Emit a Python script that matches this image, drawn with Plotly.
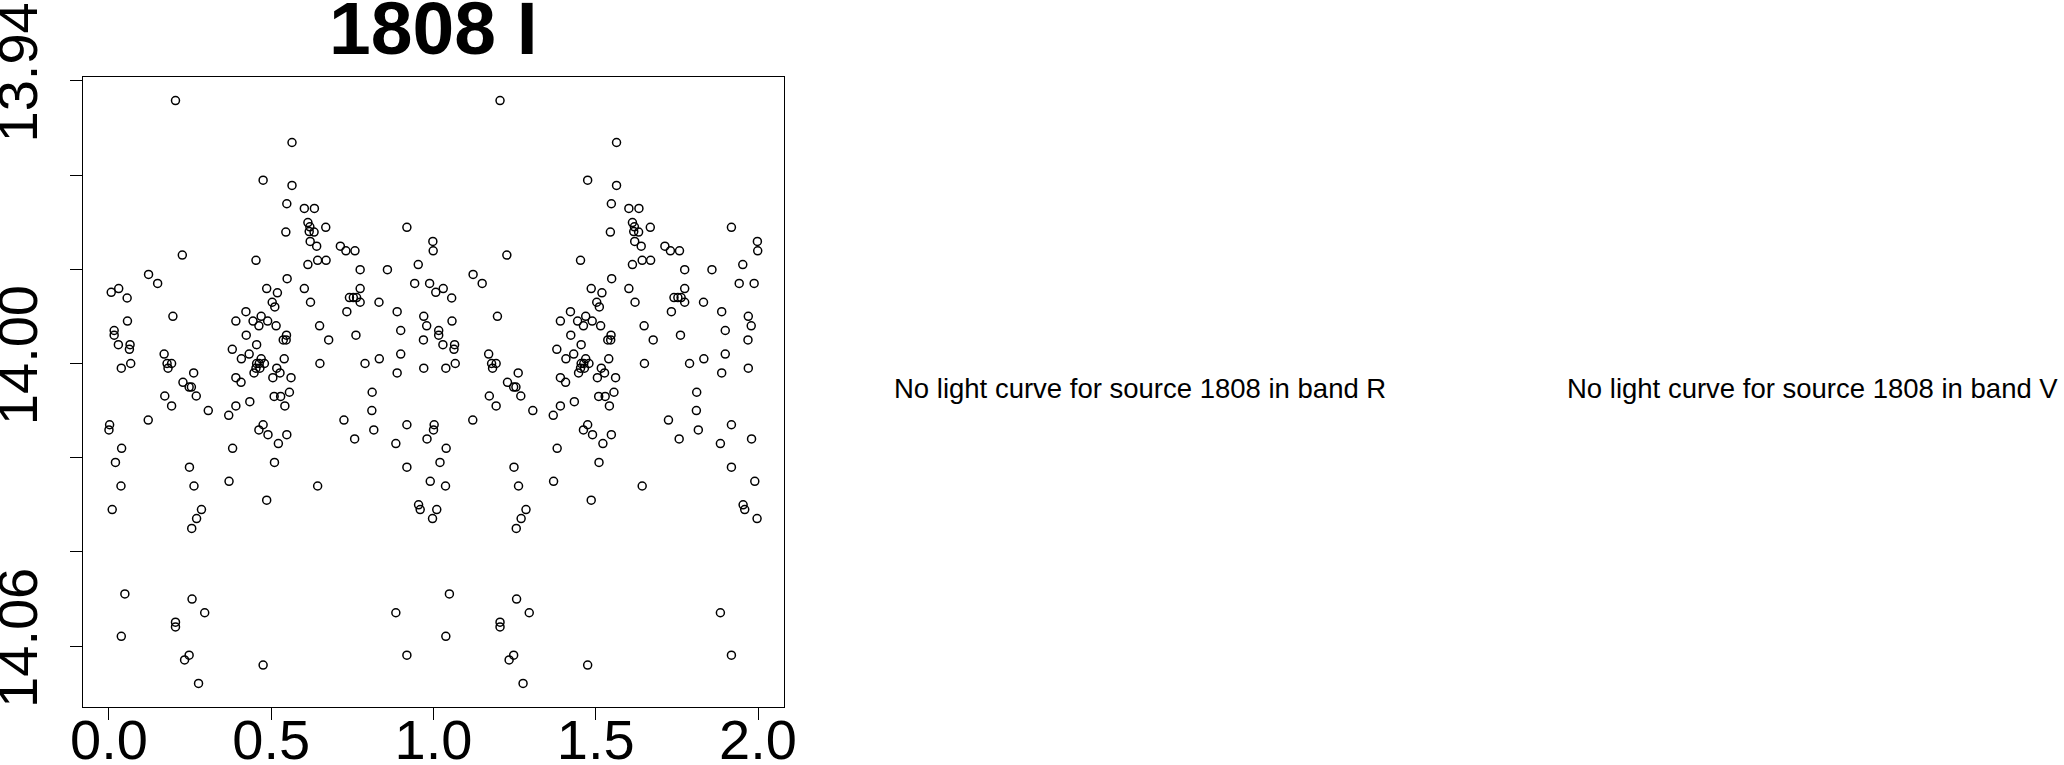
import plotly.graph_objects as go

# ---- data (phase, I-band magnitude); plotted twice (phase and phase+1)
phase = [0.205, 0.564, 0.475, 0.564, 0.548, 0.602, 0.633, 0.613, 0.619, 0.617,
         0.632, 0.668, 0.545, 0.918, 0.620, 0.998, 0.640, 0.713, 0.730, 0.758,
         0.999, 0.226, 0.453, 0.643, 0.669, 0.613, 0.953, 0.774, 0.858, 0.122,
         0.549, 0.150, 0.942, 0.988, 0.030, 0.486, 0.602, 0.774, 0.007, 0.519,
         0.056, 0.741, 0.753, 0.763, 0.503, 0.621, 0.774, 0.832, 0.511, 0.422,
         0.733, 0.888, 0.197, 0.469, 0.970, 0.057, 0.391, 0.444, 0.489, 0.462,
         0.515, 0.649, 0.979, 0.016, 0.899, 0.016, 0.423, 0.547, 0.761, 0.537,
         0.546, 0.677, 0.969, 0.029, 0.065, 0.455, 0.063, 0.380, 0.170, 0.432,
         0.899, 0.408, 0.469, 0.540, 0.833, 0.067, 0.179, 0.193, 0.455, 0.463,
         0.479, 0.650, 0.789, 0.038, 0.182, 0.453, 0.465, 0.517, 0.970, 0.261,
         0.447, 0.527, 0.888, 0.391, 0.505, 0.561, 0.228, 0.407, 0.247, 0.254,
         0.556, 0.811, 0.172, 0.269, 0.509, 0.529,
         0.434, 0.193, 0.391, 0.542, 0.306, 0.810, 0.369, 0.121, 0.724, 0.002,
         0.475, 0.918, 0.000, 0.462, 0.816, 0.490, 0.548, 0.757, 0.980, 0.522,
         0.884, 0.039, 0.381, 0.020, 0.510, 0.248, 0.918, 0.370, 0.990, 0.037,
         0.262, 0.643, 0.486, 0.954, 0.010, 0.285, 0.959, 0.270, 0.997, 0.255,
         0.049, 0.256, 0.295, 0.884, 0.205, 0.205, 0.038, 0.247, 0.918, 0.233,
         0.475, 0.276]
mag = [13.9442, 13.9531, 13.9611, 13.9622, 13.9661, 13.9671, 13.9671, 13.9701, 13.9710, 13.9720,
       13.9721, 13.9711, 13.9721, 13.9711, 13.9741, 13.9741, 13.9751, 13.9751, 13.9761, 13.9761,
       13.9761, 13.9770, 13.9781, 13.9781, 13.9781, 13.9790, 13.9790, 13.9801, 13.9801, 13.9811,
       13.9820, 13.9830, 13.9830, 13.9830, 13.9841, 13.9841, 13.9841, 13.9841, 13.9849, 13.9850,
       13.9861, 13.9860, 13.9860, 13.9860, 13.9870, 13.9870, 13.9870, 13.9870, 13.9880, 13.9890,
       13.9890, 13.9890, 13.9900, 13.9900, 13.9900, 13.9910, 13.9910, 13.9910, 13.9910, 13.9920,
       13.9920, 13.9920, 13.9920, 13.9930, 13.9930, 13.9940, 13.9940, 13.9940, 13.9940, 13.9950,
       13.9950, 13.9950, 13.9950, 13.9960, 13.9960, 13.9960, 13.9970, 13.9970, 13.9980, 13.9980,
       13.9980, 13.9990, 13.9990, 13.9990, 13.9990, 14.0000, 14.0000, 14.0000, 14.0000, 14.0000,
       14.0000, 14.0000, 14.0000, 14.0010, 14.0010, 14.0010, 14.0010, 14.0010, 14.0010, 14.0020,
       14.0020, 14.0020, 14.0020, 14.0030, 14.0030, 14.0030, 14.0040, 14.0040, 14.0050, 14.0050,
       14.0061, 14.0061, 14.0069, 14.0069, 14.0070, 14.0070,
       14.0081, 14.0090, 14.0090, 14.0090, 14.0100, 14.0100, 14.0110, 14.0120, 14.0120, 14.0130,
       14.0130, 14.0130, 14.0141, 14.0141, 14.0141, 14.0151, 14.0151, 14.0160, 14.0160, 14.0170,
       14.0170, 14.0180, 14.0180, 14.0210, 14.0210, 14.0220, 14.0220, 14.0250, 14.0250, 14.0260,
       14.0260, 14.0260, 14.0290, 14.0300, 14.0310, 14.0310, 14.0310, 14.0329, 14.0329, 14.0350,
       14.0489, 14.0500, 14.0529, 14.0529, 14.0549, 14.0559, 14.0579, 14.0619, 14.0619, 14.0629,
       14.0640, 14.0679]

x_ticks = [0.0, 0.5, 1.0, 1.5, 2.0]
x_ticktext = ["0.0", "0.5", "1.0", "1.5", "2.0"]
y_ticks = [13.94, 13.96, 13.98, 14.00, 14.02, 14.04, 14.06]
y_ticktext = ["13.94", "", "", "14.00", "", "", "14.06"]

title_text = "1808 I"
msg_R = "No light curve for source 1808 in band R"
msg_V = "No light curve for source 1808 in band V"

x_all = phase + [p + 1 for p in phase]
y_all = mag + mag

# ---- layout geometry (pixels)
W, H = 2064, 765
L, T = 83, 77
PW, PH = 701, 630
R = W - L - PW
B = H - T - PH


def px(xs):
    return (xs - L) / PW


def py(ys):
    return (H - B - ys) / PH


FONT = "Liberation Sans, Arial, Helvetica, sans-serif"

fig = go.Figure()
fig.add_trace(go.Scatter(
    x=x_all, y=y_all, mode="markers",
    marker=dict(symbol="circle-open", size=8, color="black",
                line=dict(width=1.5, color="black")),
    hoverinfo="x+y", showlegend=False,
))

fig.update_layout(
    width=W, height=H,
    margin=dict(l=L, r=R, t=T, b=B, pad=0),
    paper_bgcolor="white", plot_bgcolor="white",
    font=dict(family=FONT, color="black"),
    showlegend=False,
    xaxis=dict(
        range=[-0.08, 2.08], tickvals=x_ticks, ticktext=x_ticktext,
        ticks="outside", ticklen=12, tickwidth=1, tickcolor="black",
        showline=True, mirror=True, linecolor="black", linewidth=1,
        showgrid=False, zeroline=False, automargin=False,
        tickfont=dict(size=56, family=FONT, color="black"),
        ticklabelstandoff=-28, ticklabeloverflow="allow",
    ),
    yaxis=dict(
        range=[14.0729, 13.9392], tickvals=y_ticks, ticktext=y_ticktext,
        ticks="outside", ticklen=12, tickwidth=1, tickcolor="black",
        showline=True, mirror=True, linecolor="black", linewidth=1,
        showgrid=False, zeroline=False, automargin=False,
        tickangle=-90,
        tickfont=dict(size=56, family=FONT, color="black"),
        ticklabelstandoff=11, ticklabeloverflow="allow",
    ),
    annotations=[
        dict(text="<b>%s</b>" % title_text, x=px(434), y=py(28), xref="paper", yref="paper",
             xanchor="center", yanchor="middle", showarrow=False,
             font=dict(size=75, family=FONT, color="black")),
        dict(text=msg_R, x=px(1140), y=py(388), xref="paper", yref="paper",
             xanchor="center", yanchor="middle", showarrow=False,
             font=dict(size=27.5, family=FONT, color="black")),
        dict(text=msg_V, x=px(1812.5), y=py(388), xref="paper", yref="paper",
             xanchor="center", yanchor="middle", showarrow=False,
             font=dict(size=27.5, family=FONT, color="black")),
    ],
)

# the page's default body margin would offset the figure; remove it so the chart sits at (0, 0)
fig.write_html("out.html", config={"displayModeBar": False},
               post_script="document.body.style.margin='0px';")
